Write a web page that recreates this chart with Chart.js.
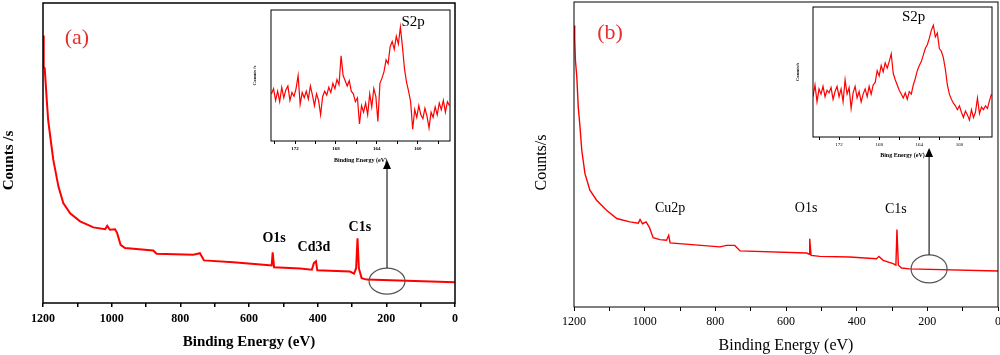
<!DOCTYPE html>
<html lang="en">
<head>
<meta charset="UTF-8">
<title>XPS survey spectra (a) and (b)</title>
<script src="https://cdn.jsdelivr.net/npm/chart.js"></script>
<style>
  body { margin: 0; background: #fff; }
  #wrap { position: relative; width: 1000px; height: 355px; overflow: hidden; }
  canvas { position: absolute; }
</style>
</head>
<body>
<div id="wrap">
  <canvas id="mainA" width="470" height="355" style="left:0;top:0"></canvas>
  <canvas id="mainB" width="480" height="355" style="left:520px;top:0"></canvas>
  <canvas id="insetA" width="215" height="165" style="left:245px;top:5px"></canvas>
  <canvas id="insetB" width="208" height="165" style="left:790px;top:2px"></canvas>
</div>
<script>
// survey spectrum (a) - binding energy (eV) / counts (arb.)
const energyA = [1200, 1198, 1195, 1189, 1185, 1180, 1170, 1155, 1141, 1121,
  1092, 1053, 1019, 1013, 1005, 990, 984, 974, 961, 879,
  869, 762, 743, 731, 646, 549, 534, 531, 527, 451,
  417, 411, 405, 401, 306, 294, 288, 284, 280, 272, 257, 0];
const countsA = [89.2, 78.7, 78.2, 67.6, 61.0, 56.5, 47.7, 38.8, 33.3, 29.9,
  27.2, 25.2, 24.6, 25.7, 24.4, 24.6, 23.3, 19.4, 18.3, 17.5,
  16.4, 16.1, 16.6, 14.2, 13.6, 12.7, 12.5, 16.9, 11.9, 11.5,
  11.1, 13.3, 13.9, 10.9, 10.5, 9.8, 11.6, 21.6, 11.6, 8.3, 7.8, 6.9];

// survey spectrum (b)
const energyB = [1200, 1198, 1196, 1192, 1188, 1183, 1178, 1169, 1155, 1136,
  1108, 1079, 1042, 1018, 1013, 1006, 996, 987, 976, 957,
  938, 932, 928, 787, 768, 745, 730, 542, 534, 533,
  529, 504, 420, 344, 337, 325, 297, 289, 286, 282, 273, 250, 0];
const countsB = [92.3, 88.0, 80.9, 75.4, 65.6, 59.0, 51.4, 43.7, 38.3, 35.0,
  31.7, 29.0, 27.9, 27.5, 28.7, 27.3, 27.9, 26.2, 22.7, 22.1,
  21.9, 23.5, 21.0, 19.7, 20.2, 20.2, 18.4, 17.7, 17.3, 22.4,
  16.9, 16.6, 16.4, 15.8, 16.6, 15.3, 14.2, 13.7, 25.4, 13.7, 12.8, 12.5, 11.8];

// S2p inset (a)
const s2pEnergyA = [174.3, 174.1, 173.9, 173.7, 173.5, 173.3, 173.1, 172.9, 172.7, 172.5,
  172.3, 172.1, 171.9, 171.7, 171.5, 171.3, 171.1, 170.9, 170.7, 170.5,
  170.3, 170.1, 169.9, 169.7, 169.5, 169.3, 169.1, 168.9, 168.7, 168.5,
  168.3, 168.1, 167.9, 167.7, 167.5, 167.3, 167.1, 166.9, 166.7, 166.5,
  166.3, 166.1, 165.9, 165.7, 165.5, 165.3, 165.1, 164.9, 164.7, 164.5,
  164.3, 164.1, 163.9, 163.7, 163.5, 163.3, 163.1, 162.9, 162.7, 162.5,
  162.3, 162.1, 161.9, 161.7, 161.5, 161.3, 161.1, 160.9, 160.7, 160.5,
  160.3, 160.1, 159.9, 159.7, 159.5, 159.3, 159.1, 158.9, 158.7, 158.5,
  158.3, 158.1, 157.9, 157.7, 157.5, 157.3, 157.1, 156.9];
const s2pCountsA = [36, 40, 31, 38, 30, 41, 33, 39, 42, 31,
  37, 34, 40, 50, 28, 37, 33, 38, 32, 42,
  35, 27, 36, 31, 20, 34, 38, 35, 41, 37,
  44, 40, 47, 43, 65, 50, 46, 42, 46, 38,
  36, 30, 33, 13, 27, 22, 29, 20, 36, 26,
  40, 34, 15, 44, 48, 53, 62, 59, 72, 76,
  70, 80, 74, 87, 72, 55, 45, 38, 30, 9,
  24, 18, 27, 20, 17, 25, 19, 10, 22, 18,
  26, 20, 29, 24, 31, 22, 30, 27];

// S2p inset (b)
const s2pEnergyB = [174.6, 174.4, 174.2, 174.0, 173.8, 173.6, 173.4, 173.2, 173.0, 172.8,
  172.6, 172.4, 172.2, 172.0, 171.8, 171.6, 171.4, 171.2, 171.0, 170.8,
  170.6, 170.4, 170.2, 170.0, 169.8, 169.6, 169.4, 169.2, 169.0, 168.8,
  168.6, 168.4, 168.2, 168.0, 167.8, 167.6, 167.4, 167.2, 167.0, 166.8,
  166.6, 166.4, 166.2, 166.0, 165.8, 165.6, 165.4, 165.2, 165.0, 164.8,
  164.6, 164.4, 164.2, 164.0, 163.8, 163.6, 163.4, 163.2, 163.0, 162.8,
  162.6, 162.4, 162.2, 162.0, 161.8, 161.6, 161.4, 161.2, 161.0, 160.8,
  160.6, 160.4, 160.2, 160.0, 159.8, 159.6, 159.4, 159.2, 159.0, 158.8,
  158.6, 158.4, 158.2, 158.0, 157.8, 157.6, 157.4, 157.2, 157.0, 156.8];
const s2pCountsB = [31, 40, 27, 37, 33, 39, 31, 36, 34, 38,
  29, 35, 39, 31, 37, 27, 44, 33, 38, 22,
  34, 39, 30, 35, 27, 33, 37, 31, 39, 33,
  40, 42, 51, 47, 55, 50, 57, 53, 58, 64,
  49, 44, 40, 36, 33, 30, 34, 29, 35, 33,
  40, 45, 51, 55, 58, 63, 68, 71, 76, 82,
  86, 77, 80, 68, 66, 61, 52, 40, 33, 29,
  26, 24, 21, 24, 19, 15, 20, 17, 13, 21,
  15, 19, 30, 18, 23, 21, 24, 22, 28, 33];

// ticks
const surveyTicks = [0, 100, 200, 300, 400, 500, 600, 700, 800, 900, 1000, 1100, 1200];
const surveyLabels = [0, 200, 400, 600, 800, 1000, 1200];
const insetTicks = [158, 160, 162, 164, 166, 168, 170, 172, 174];
const insetLabels = [160, 164, 168, 172];

const RED = '#ff0000';
const SERIF = '"Liberation Serif", "Times New Roman", serif';

// box round the plot area
const frame = {
  id: 'frame',
  afterDatasetsDraw(chart, args, opts) {
    const { ctx, chartArea: a } = chart;
    ctx.save();
    ctx.strokeStyle = opts.color;
    ctx.lineWidth = opts.width;
    ctx.strokeRect(a.left, a.top, a.right - a.left, a.bottom - a.top);
    ctx.restore();
  }
};

// peak labels, plus the ring and arrow pointing to the inset
const notes = {
  id: 'notes',
  afterDraw(chart, args, opts) {
    const { ctx, scales: { x, y } } = chart;
    (opts.items || []).forEach(n => {
      ctx.save();
      ctx.font = n.font;
      ctx.fillStyle = n.color || '#000';
      ctx.textAlign = 'center';
      ctx.textBaseline = 'middle';
      ctx.fillText(n.text, x.getPixelForValue(n.x), y.getPixelForValue(n.y));
      ctx.restore();
    });
    const r = opts.ring;
    if (r) {
      const cx = x.getPixelForValue(r.x), cy = y.getPixelForValue(r.y);
      ctx.save();
      ctx.strokeStyle = '#555';
      ctx.lineWidth = 1.2;
      ctx.beginPath();
      ctx.ellipse(cx, cy, r.rx, r.ry, 0, 0, Math.PI * 2);
      ctx.stroke();
      ctx.strokeStyle = '#222';
      ctx.beginPath();
      ctx.moveTo(cx, cy - r.ry);
      ctx.lineTo(cx, r.tipY + 8);
      ctx.stroke();
      ctx.fillStyle = '#000';
      ctx.beginPath();
      ctx.moveTo(cx, r.tipY);
      ctx.lineTo(cx - 4, r.tipY + 9);
      ctx.lineTo(cx + 4, r.tipY + 9);
      ctx.closePath();
      ctx.fill();
      ctx.restore();
    }
  }
};

function pts(xs, ys) {
  return xs.map((v, i) => ({ x: v, y: ys[i] }));
}

function spectrum(id, s) {
  return new Chart(document.getElementById(id), {
    type: 'line',
    data: {
      datasets: [{
        data: pts(s.xs, s.ys),
        borderColor: RED,
        borderWidth: s.lineWidth,
        pointRadius: 0,
        tension: 0
      }]
    },
    options: {
      responsive: false,
      animation: false,
      devicePixelRatio: 1,
      layout: { padding: s.padding },
      plugins: {
        legend: { display: false },
        tooltip: { enabled: false },
        frame: { color: '#000', width: s.frameWidth },
        notes: { items: s.notes, ring: s.ring }
      },
      scales: {
        x: {
          type: 'linear',
          reverse: true,
          min: s.xMin,
          max: s.xMax,
          afterFit: sc => { sc.height = s.xHeight; },
          afterBuildTicks: sc => { sc.ticks = s.ticks.map(v => ({ value: v })); },
          border: { display: false },
          grid: { drawOnChartArea: false, drawTicks: true, tickLength: s.tickLength, color: '#000', lineWidth: s.frameWidth },
          ticks: {
            autoSkip: false,
            maxRotation: 0,
            padding: s.tickPad,
            color: '#000',
            font: s.tickFont,
            callback: v => s.labels.includes(v) ? String(v) : ''
          },
          title: { display: true, text: s.xTitle, color: '#000', font: s.xTitleFont, padding: { top: 0, bottom: s.xTitlePad } }
        },
        y: {
          min: 0,
          max: 100,
          afterFit: sc => { sc.width = s.yWidth; },
          border: { display: false },
          grid: { display: false },
          ticks: { display: false },
          title: { display: true, text: s.yTitle, color: '#000', font: s.yTitleFont, padding: { top: s.yTitlePad, bottom: 0 } }
        }
      }
    },
    plugins: [frame, notes]
  });
}

// (a) survey
spectrum('mainA', {
  xs: energyA, ys: countsA, lineWidth: 2, frameWidth: 1.5,
  xMin: 0, xMax: 1200, ticks: surveyTicks, labels: surveyLabels,
  padding: { left: 0, right: 15, top: 3, bottom: 0 },
  xHeight: 52, yWidth: 43, tickLength: 4, tickPad: 5,
  tickFont: { family: SERIF, size: 12, weight: 'bold' },
  xTitle: 'Binding Energy (eV)', xTitleFont: { family: SERIF, size: 15, weight: 'bold' }, xTitlePad: 4,
  yTitle: 'Counts /s    ', yTitleFont: { family: SERIF, size: 15, weight: 'bold' }, yTitlePad: 0,
  notes: [
    { text: '(a)', x: 1101, y: 88.3, font: '22px ' + SERIF, color: '#e53030' },
    { text: 'O1s', x: 527, y: 21.7, font: 'bold 14px ' + SERIF },
    { text: 'Cd3d', x: 411, y: 18.7, font: 'bold 14px ' + SERIF },
    { text: 'C1s', x: 277, y: 25.3, font: 'bold 14px ' + SERIF }
  ],
  ring: { x: 198, y: 7.3, rx: 18, ry: 13, tipY: 160 }
});

// (b) survey
spectrum('mainB', {
  xs: energyB, ys: countsB, lineWidth: 1.4, frameWidth: 1,
  xMin: 0, xMax: 1200, ticks: surveyTicks, labels: surveyLabels,
  padding: { left: 0, right: 2, top: 2, bottom: 0 },
  xHeight: 48, yWidth: 54, tickLength: 4, tickPad: 4,
  tickFont: { family: SERIF, size: 12 },
  xTitle: 'Binding Energy (eV)', xTitleFont: { family: SERIF, size: 16 }, xTitlePad: 0,
  yTitle: 'Counts/s    ', yTitleFont: { family: SERIF, size: 16 }, yTitlePad: 12,
  notes: [
    { text: '(b)', x: 1098, y: 89.8, font: '22px ' + SERIF, color: '#e53030' },
    { text: 'Cu2p', x: 928, y: 32.5, font: '14px ' + SERIF },
    { text: 'O1s', x: 543, y: 32.5, font: '14px ' + SERIF },
    { text: 'C1s', x: 289, y: 32.1, font: '14px ' + SERIF }
  ],
  ring: { x: 195, y: 12.5, rx: 18, ry: 14, tipY: 148 }
});

// (a) S2p inset
spectrum('insetA', {
  xs: s2pEnergyA, ys: s2pCountsA, lineWidth: 1.2, frameWidth: 1,
  xMin: 156.85, xMax: 174.35, ticks: insetTicks, labels: insetLabels,
  padding: { left: 0, right: 10, top: 5, bottom: 0 },
  xHeight: 29, yWidth: 26, tickLength: 3, tickPad: 2,
  tickFont: { family: SERIF, size: 5, weight: 'bold' },
  xTitle: 'Binding Energy (eV)', xTitleFont: { family: SERIF, size: 6, weight: 'bold' }, xTitlePad: 6,
  yTitle: 'Counts /s', yTitleFont: { family: SERIF, size: 5, weight: 'bold' }, yTitlePad: 7,
  notes: [
    { text: 'S2p', x: 160.45, y: 90.8, font: '15px ' + SERIF }
  ]
});

// (b) S2p inset
spectrum('insetB', {
  xs: s2pEnergyB, ys: s2pCountsB, lineWidth: 1.2, frameWidth: 1,
  xMin: 156.75, xMax: 174.6, ticks: insetTicks, labels: insetLabels,
  padding: { left: 0, right: 6, top: 5, bottom: 0 },
  xHeight: 30, yWidth: 23, tickLength: 3, tickPad: 2,
  tickFont: { family: SERIF, size: 5 },
  xTitle: 'Bing Energy (eV)', xTitleFont: { family: SERIF, size: 6, weight: 'bold' }, xTitlePad: 8,
  yTitle: 'Counts/s', yTitleFont: { family: SERIF, size: 5, weight: 'bold' }, yTitlePad: 5,
  notes: [
    { text: 'S2p', x: 164.57, y: 92.5, font: '15px ' + SERIF }
  ]
});
</script>
</body>
</html>
